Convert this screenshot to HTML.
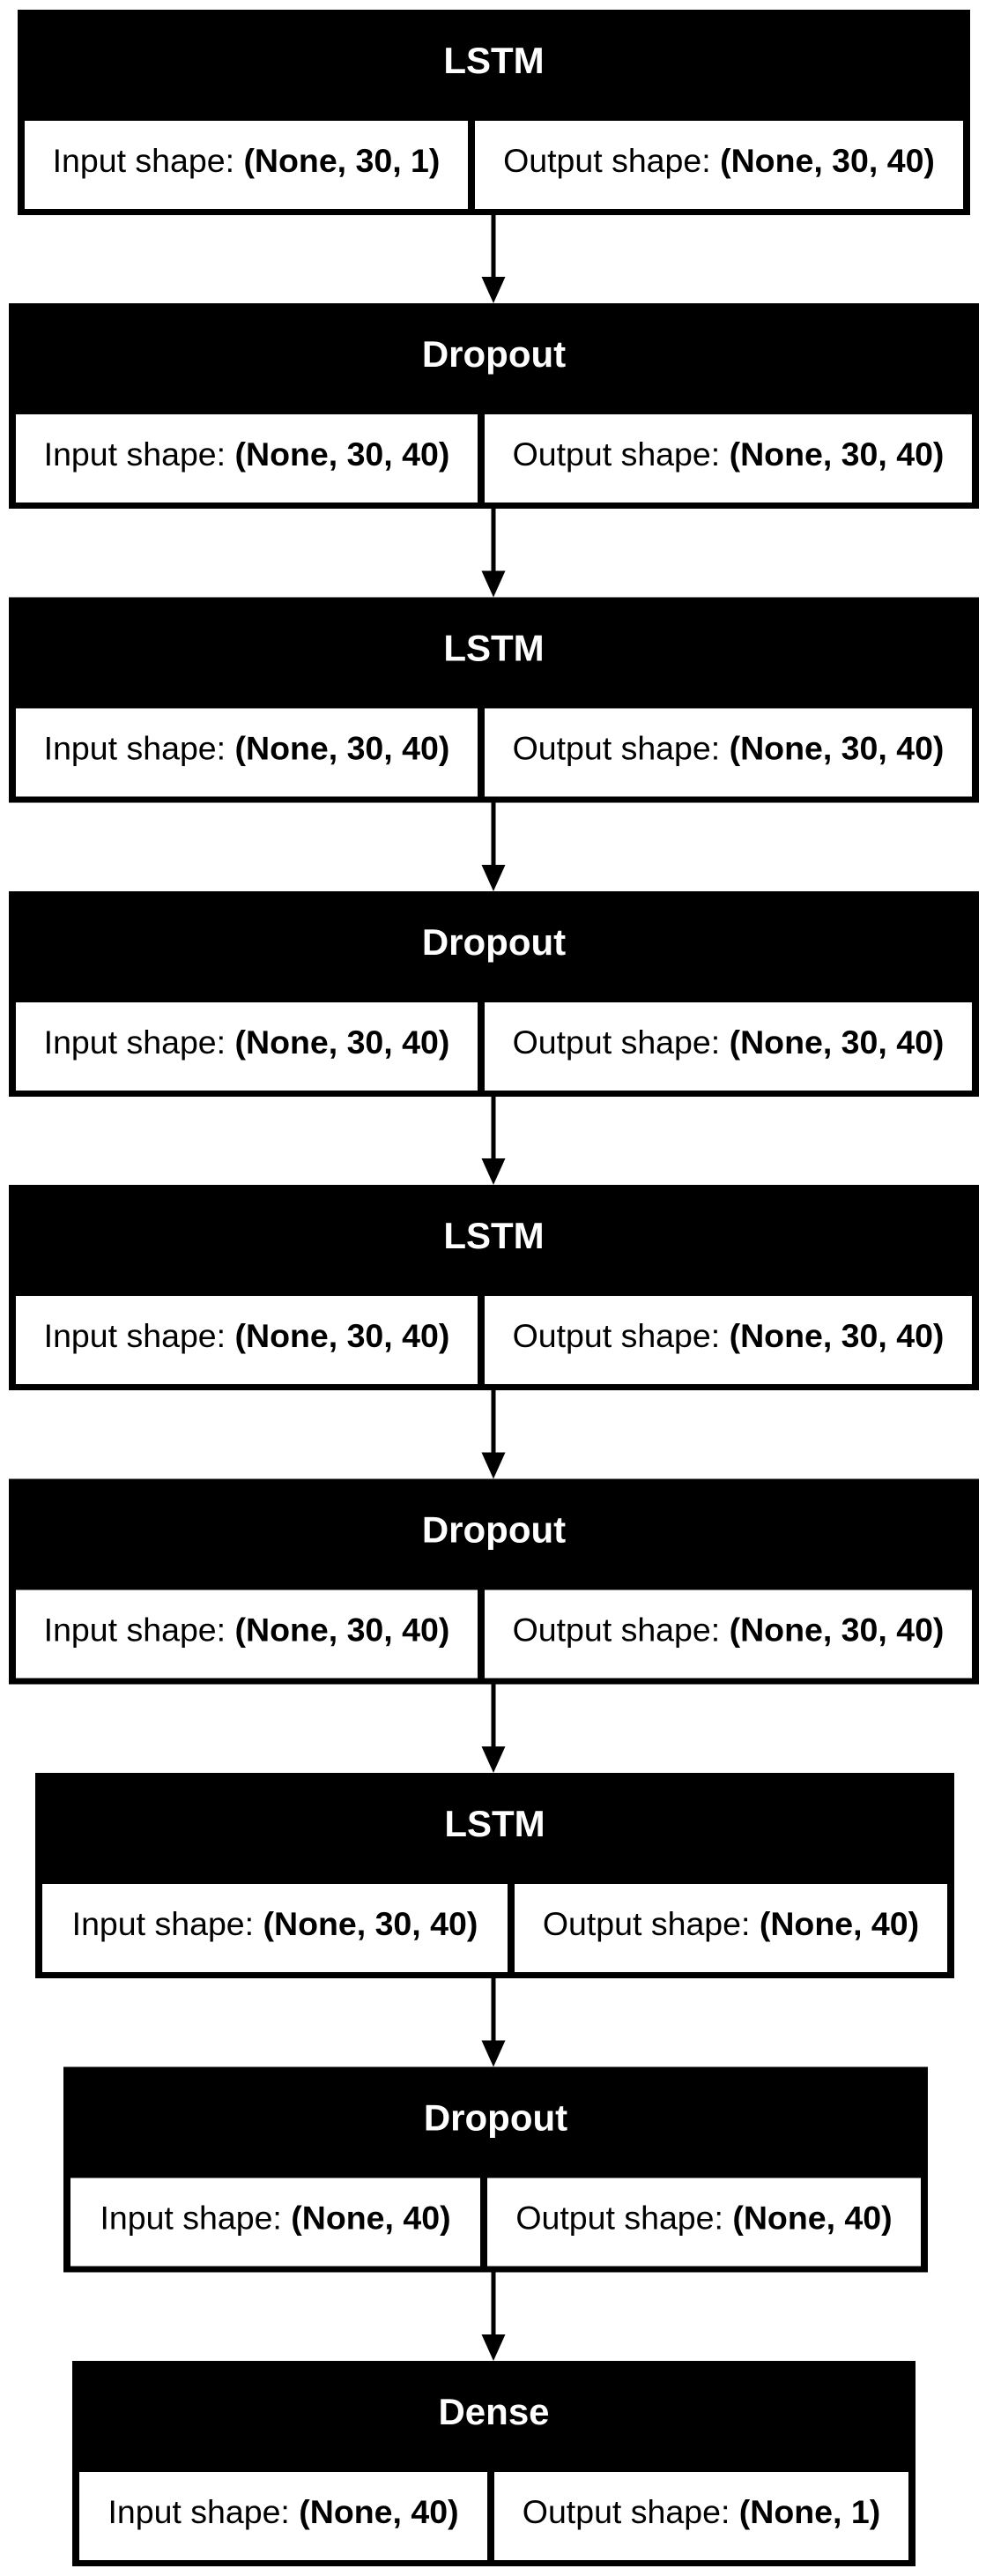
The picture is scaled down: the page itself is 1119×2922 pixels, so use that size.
<!DOCTYPE html>
<html><head><meta charset="utf-8"><style>
html,body{margin:0;padding:0;background:#fff;}
svg{display:block;}
text{font-family:"Liberation Sans",Arial,sans-serif;}
</style></head><body>
<svg width="1119" height="2922" viewBox="0 0 1119 2922" xmlns="http://www.w3.org/2000/svg">
<g id="boxes"></g>
<!-- Box 1 -->
<g transform="translate(0,11)">
<rect x="20" y="0" width="1081" height="233" fill="#000"/>
<rect x="28" y="126" width="503" height="100" fill="#fff"/>
<rect x="539" y="126" width="554" height="100" fill="#fff"/>
<text x="560.5" y="72" fill="#fff" font-size="42" font-weight="bold" text-anchor="middle">LSTM</text>
<text x="279.5" y="184" font-size="37.5" text-anchor="middle">Input shape: <tspan font-weight="bold">(None, 30, 1)</tspan></text>
<text x="816" y="184" font-size="37.5" text-anchor="middle">Output shape: <tspan font-weight="bold">(None, 30, 40)</tspan></text>
</g>
<!-- Boxes 2-6 -->
<g transform="translate(0,344)">
<rect x="10" y="0" width="1101" height="233" fill="#000"/>
<rect x="18" y="126" width="524" height="100" fill="#fff"/>
<rect x="550" y="126" width="553" height="100" fill="#fff"/>
<text x="560.5" y="72" fill="#fff" font-size="42" font-weight="bold" text-anchor="middle">Dropout</text>
<text x="280" y="184" font-size="37.5" text-anchor="middle">Input shape: <tspan font-weight="bold">(None, 30, 40)</tspan></text>
<text x="826.5" y="184" font-size="37.5" text-anchor="middle">Output shape: <tspan font-weight="bold">(None, 30, 40)</tspan></text>
</g>
<g transform="translate(0,677.5)">
<rect x="10" y="0" width="1101" height="233" fill="#000"/>
<rect x="18" y="126" width="524" height="100" fill="#fff"/>
<rect x="550" y="126" width="553" height="100" fill="#fff"/>
<text x="560.5" y="72" fill="#fff" font-size="42" font-weight="bold" text-anchor="middle">LSTM</text>
<text x="280" y="184" font-size="37.5" text-anchor="middle">Input shape: <tspan font-weight="bold">(None, 30, 40)</tspan></text>
<text x="826.5" y="184" font-size="37.5" text-anchor="middle">Output shape: <tspan font-weight="bold">(None, 30, 40)</tspan></text>
</g>
<g transform="translate(0,1011)">
<rect x="10" y="0" width="1101" height="233" fill="#000"/>
<rect x="18" y="126" width="524" height="100" fill="#fff"/>
<rect x="550" y="126" width="553" height="100" fill="#fff"/>
<text x="560.5" y="72" fill="#fff" font-size="42" font-weight="bold" text-anchor="middle">Dropout</text>
<text x="280" y="184" font-size="37.5" text-anchor="middle">Input shape: <tspan font-weight="bold">(None, 30, 40)</tspan></text>
<text x="826.5" y="184" font-size="37.5" text-anchor="middle">Output shape: <tspan font-weight="bold">(None, 30, 40)</tspan></text>
</g>
<g transform="translate(0,1344)">
<rect x="10" y="0" width="1101" height="233" fill="#000"/>
<rect x="18" y="126" width="524" height="100" fill="#fff"/>
<rect x="550" y="126" width="553" height="100" fill="#fff"/>
<text x="560.5" y="72" fill="#fff" font-size="42" font-weight="bold" text-anchor="middle">LSTM</text>
<text x="280" y="184" font-size="37.5" text-anchor="middle">Input shape: <tspan font-weight="bold">(None, 30, 40)</tspan></text>
<text x="826.5" y="184" font-size="37.5" text-anchor="middle">Output shape: <tspan font-weight="bold">(None, 30, 40)</tspan></text>
</g>
<g transform="translate(0,1677.5)">
<rect x="10" y="0" width="1101" height="233" fill="#000"/>
<rect x="18" y="126" width="524" height="100" fill="#fff"/>
<rect x="550" y="126" width="553" height="100" fill="#fff"/>
<text x="560.5" y="72" fill="#fff" font-size="42" font-weight="bold" text-anchor="middle">Dropout</text>
<text x="280" y="184" font-size="37.5" text-anchor="middle">Input shape: <tspan font-weight="bold">(None, 30, 40)</tspan></text>
<text x="826.5" y="184" font-size="37.5" text-anchor="middle">Output shape: <tspan font-weight="bold">(None, 30, 40)</tspan></text>
</g>
<!-- Box 7 -->
<g transform="translate(0,2011)">
<rect x="40" y="0" width="1043" height="233" fill="#000"/>
<rect x="48" y="126" width="528" height="100" fill="#fff"/>
<rect x="584" y="126" width="491" height="100" fill="#fff"/>
<text x="561.5" y="72" fill="#fff" font-size="42" font-weight="bold" text-anchor="middle">LSTM</text>
<text x="312" y="184" font-size="37.5" text-anchor="middle">Input shape: <tspan font-weight="bold">(None, 30, 40)</tspan></text>
<text x="829.5" y="184" font-size="37.5" text-anchor="middle">Output shape: <tspan font-weight="bold">(None, 40)</tspan></text>
</g>
<!-- Box 8 -->
<g transform="translate(0,2344.5)">
<rect x="72" y="0" width="981" height="233" fill="#000"/>
<rect x="80" y="126" width="465" height="100" fill="#fff"/>
<rect x="553" y="126" width="492" height="100" fill="#fff"/>
<text x="562.5" y="72" fill="#fff" font-size="42" font-weight="bold" text-anchor="middle">Dropout</text>
<text x="312.5" y="184" font-size="37.5" text-anchor="middle">Input shape: <tspan font-weight="bold">(None, 40)</tspan></text>
<text x="799" y="184" font-size="37.5" text-anchor="middle">Output shape: <tspan font-weight="bold">(None, 40)</tspan></text>
</g>
<!-- Box 9 -->
<g transform="translate(0,2678)">
<rect x="82" y="0" width="957" height="233" fill="#000"/>
<rect x="90" y="126" width="463" height="100" fill="#fff"/>
<rect x="561" y="126" width="470" height="100" fill="#fff"/>
<text x="560.5" y="72" fill="#fff" font-size="42" font-weight="bold" text-anchor="middle">Dense</text>
<text x="321.5" y="184" font-size="37.5" text-anchor="middle">Input shape: <tspan font-weight="bold">(None, 40)</tspan></text>
<text x="796" y="184" font-size="37.5" text-anchor="middle">Output shape: <tspan font-weight="bold">(None, 1)</tspan></text>
</g>
<!-- Arrows -->
<g fill="#000">
<rect x="557.5" y="244" width="5" height="72"/><polygon points="546.5,314 573.5,314 560,344"/>
<rect x="557.5" y="577" width="5" height="72"/><polygon points="546.5,647.5 573.5,647.5 560,677.5"/>
<rect x="557.5" y="910.5" width="5" height="72"/><polygon points="546.5,981 573.5,981 560,1011"/>
<rect x="557.5" y="1244" width="5" height="72"/><polygon points="546.5,1314 573.5,1314 560,1344"/>
<rect x="557.5" y="1577" width="5" height="72"/><polygon points="546.5,1647.5 573.5,1647.5 560,1677.5"/>
<rect x="557.5" y="1910.5" width="5" height="72"/><polygon points="546.5,1981 573.5,1981 560,2011"/>
<rect x="557.5" y="2244" width="5" height="72"/><polygon points="546.5,2314.5 573.5,2314.5 560,2344.5"/>
<rect x="557.5" y="2577.5" width="5" height="72"/><polygon points="546.5,2648 573.5,2648 560,2678"/>
</g>
</svg>
</body></html>
